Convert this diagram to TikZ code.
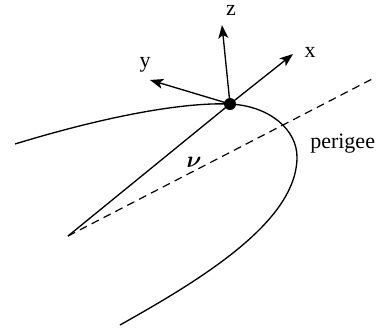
\documentclass[tikz,border=0pt]{standalone}
\usepackage{amsmath}
\usepackage{fontspec}
\setmainfont{Liberation Serif}
\usetikzlibrary{arrows.meta}

\begin{document}
\begin{tikzpicture}[x=0.75pt,y=-0.75pt,>={Stealth[length=10pt,width=7.5pt,inset=2.5pt]},
  font=\fontsize{16.5}{19}\selectfont,
  axis/.style={->,line width=1pt},
  orbit/.style={line width=1pt},
  apse/.style={line width=0.9pt,dash pattern=on 6pt off 4pt},
  sat/.style={circle,fill=black,inner sep=0pt,minimum size=9pt},
  lbl/.style={anchor=base,inner sep=0pt},
]
\useasboundingbox (0,0) rectangle (378,333);

% points of the frame
\node[sat] (body) at (230,104) {};
\coordinate (focus) at (68,236);
\coordinate (xend) at (293,54);
\coordinate (yend) at (150,80);
\coordinate (zend) at (222,25);
\coordinate (apsend) at (376,77);

% orbit through the body
\draw[orbit] (15,144) .. controls (100,118) and (180,102) .. (body.center)
  .. controls (270,106) and (297,130) .. (297,157)
  .. controls (297,222) and (200,280) .. (120,325);

% line of apsides and radius
\draw[apse] (focus) -- (apsend);
\draw[orbit] (focus) -- (body.center);

% local axes
\draw[axis] (body.center) -- (xend);
\draw[axis] (body.center) -- (yend);
\draw[axis] (body.center) -- (zend);

\node[lbl] (xlbl) at (310,57) {x};
\node[lbl] (ylbl) at (145,67) {y};
\node[lbl] (zlbl) at (231,15) {z};
\node[lbl] (nulbl) at (194,167) {\fontsize{19}{21}\selectfont$\boldsymbol{\nu}$};
\node[lbl,anchor=base west] (perigee) at (310,148) {perigee};

\end{tikzpicture}
\end{document}
